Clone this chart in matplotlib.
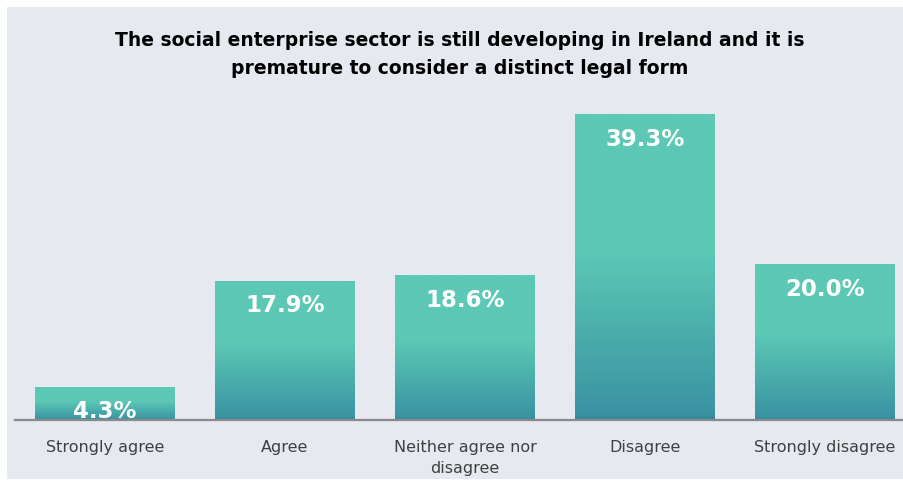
import matplotlib
matplotlib.use("Agg")
import matplotlib.pyplot as plt
import numpy as np
from matplotlib.colors import LinearSegmentedColormap
from matplotlib.patches import Rectangle

categories = ["Strongly agree", "Agree", "Neither agree nor\ndisagree", "Disagree", "Strongly disagree"]
values = [4.3, 17.9, 18.6, 39.3, 20.0]
value_labels = ["4.3%", "17.9%", "18.6%", "39.3%", "20.0%"]
title = ("The social enterprise sector is still developing in Ireland and it is\n"
         "premature to consider a distinct legal form")

W, H, DPI = 904, 485, 100
BG = "#E6E9F0"
LIGHT = "#5CC8B5"
DARK = "#3A93A2"

fig = plt.figure(figsize=(W / DPI, H / DPI), dpi=DPI, facecolor="white")
# panel background
fig.patches.append(Rectangle((7 / W, 5 / H), 897 / W, 472 / H, transform=fig.transFigure,
                             facecolor=BG, edgecolor="none", zorder=-5))

base_px = 421
px_per_unit = 7.786
top_px = 40
ymax = (base_px - top_px) / px_per_unit
ax = fig.add_axes([15 / W, (H - base_px) / H, 900 / W, (base_px - top_px) / H])
ax.set_facecolor("none")
ax.set_zorder(2)

cmap = LinearSegmentedColormap.from_list(
    "teal", [(0.0, "#2F8799"), (0.02, DARK), (0.55, LIGHT), (1.0, LIGHT)])
grad = np.linspace(0, 1, 256).reshape(-1, 1)

x = np.arange(len(categories))
width = 140 / 180
bars = ax.bar(x, values, width=width, color="none", edgecolor="none", zorder=2)
for bar, lab in zip(bars, value_labels):
    bx, bw, bh = bar.get_x(), bar.get_width(), bar.get_height()
    im = ax.imshow(grad, extent=[bx, bx + bw, 0, bh], origin="lower", cmap=cmap,
                   aspect="auto", zorder=2, interpolation="bilinear")
    im.set_clip_path(bar)
    ax.annotate(lab, (bx + bw / 2, bh), xytext=(0, -24), textcoords="offset pixels",
                ha="center", va="center", color="white", fontsize=16.5, fontweight="bold", zorder=3)

ax.set_xlim(-0.5, len(categories) - 0.5)
ax.set_ylim(0, ymax)
for s in ["left", "right", "top"]:
    ax.spines[s].set_visible(False)
ax.spines["bottom"].set_color("#8A8A8A")
ax.spines["bottom"].set_linewidth(1.6)
ax.set_yticks([])
ax.set_xticks(x)
ax.set_xticklabels(categories, fontsize=11.5, color="#404040", linespacing=1.5)
ax.tick_params(axis="x", length=0, pad=14)

fig.text(460 / W, 1 - 55 / H, title, ha="center", va="center", fontsize=13.5,
         fontweight="bold", color="black", linespacing=1.6)

fig.savefig("out.png", dpi=DPI, facecolor="white")
